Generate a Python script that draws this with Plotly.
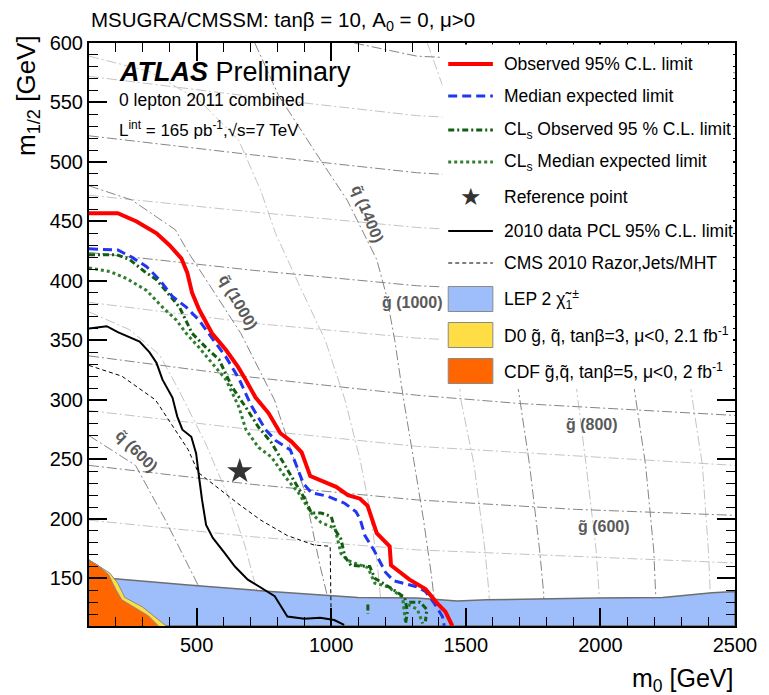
import plotly.graph_objects as go

# ---------------- data (m0 [GeV], m1/2 [GeV]) ----------------
OBS_M0 = [100, 207, 277, 351, 399, 443, 465, 483, 509, 557, 609, 653, 682, 719, 767, 811, 852, 890, 922,
          977, 1018, 1062, 1107, 1135, 1169, 1217, 1222, 1291, 1350, 1394, 1424, 1450]
OBS_M12 = [457, 457, 450, 440, 430, 419, 407, 390, 376, 356, 342, 328, 317, 302, 289, 272, 265, 256, 236,
           231, 227, 220, 217, 211, 188, 177, 161, 149, 141, 129, 122, 110]

EXP_M0 = [100, 207, 259, 314, 362, 410, 461, 509, 557, 609, 657, 701, 756, 793, 848, 871, 896, 926, 988,
          1051, 1092, 1107, 1125, 1158, 1202, 1232, 1317, 1350, 1383, 1413, 1420]
EXP_M12 = [427, 426, 420, 412, 401, 387, 378, 367, 352, 336, 318, 296, 275, 266, 258, 244, 230, 222, 219,
           213, 206, 200, 186, 174, 155, 148, 143, 139, 129, 118, 110]

CLS_OBS_M0 = [100, 203, 251, 306, 351, 399, 436, 483, 535, 583, 631, 682, 730, 778, 830, 859, 904, 926, 962,
              1000, 1014, 1036, 1051, 1073, 1143, 1162, 1221, 1273, 1283, 1276, None,
              1290, 1330, 1355, 1350, None, 1136, 1136]
CLS_OBS_M12 = [422, 422, 418, 408, 401, 388, 378, 356, 344, 334, 311, 294, 277, 264, 244, 233, 216, 205, 205,
               202, 191, 183, 168, 161, 160, 150, 142, 134, 122, 112, None,
               130, 130, 124, 114, None, 128, 120]

CLS_EXP_M0 = [100, 177, 240, 314, 373, 425, 461, 509, 557, 609, 657, 683, 730, 778, 830, 878, 926, 962,
              1014, 1025, 1036, 1062, 1136, 1162, 1210, 1265, 1276, None, 1285, 1320, 1340]
CLS_EXP_M12 = [411, 408, 402, 392, 378, 367, 356, 344, 331, 317, 294, 275, 260, 252, 235, 222, 205, 197,
               192, 181, 171, 165, 159, 146, 143, 134, 113, None, 128, 124, 112]

PCL2010_M0 = [100, 166, 207, 259, 288, 325, 351, 373, 410, 428, 447, 480, 498, 509, 520, 535, 560, 605, 642,
              690, 753, 790, 812, 837, 900, 959, 1011, 1048]
PCL2010_M12 = [360, 362, 357, 352, 349, 340, 331, 317, 302, 286, 275, 269, 255, 235, 216, 195, 184, 171, 160,
               149, 140, 135, 127, 118, 116, 117, 115, 111]

CMS_M0 = [100, 222, 347, 421, 469, 506, 568, 653, 738, 837, 937, 996, 1000]
CMS_M12 = [329, 320, 300, 275, 258, 239, 228, 213, 199, 186, 178, 177, 110]

LEP_M0 = [100, 185, 469, 775, 1099, 1317, 1468, 1578, 1984, 2231, 2415, 2500, 2500, 100]
LEP_M12 = [152, 150, 144.5, 139, 134, 133.5, 131, 132, 133.5, 134, 138, 139, 110, 110]

D0_M0 = [100, 100, 136, 177, 207, 233, 299, 387]
D0_M12 = [110, 165.5, 160.5, 154.5, 146, 134, 126, 110]

CDF_M0 = [100, 100, 136, 173, 200, 222, 259, 321, 358]
CDF_M12 = [110, 165.5, 160.5, 153, 140.5, 132, 127, 118.5, 110]

REF_POINT_M0 = [660]
REF_POINT_M12 = [240]

# gluino iso-mass contours (m0, m1/2)
GLUINO_500 = [(100, 199), (708, 185), (1317, 174), (2500, 163)]
GLUINO_600 = [(100, 245), (708, 229), (1317, 216), (1910, 208), (2500, 203)]
GLUINO_700 = [(100, 291), (708, 275), (1317, 261), (2500, 245)]
GLUINO_800 = [(100, 337), (708, 319), (1317, 304), (1700, 297), (2500, 287)]
GLUINO_900 = [(100, 382), (731, 364), (1317, 352), (2500, 338)]
GLUINO_1000 = [(100, 424), (708, 409), (1317, 396), (2500, 384)]
GLUINO_1100 = [(100, 472), (708, 458), (1317, 445), (2500, 430)]
GLUINO_1200 = [(100, 522), (708, 506), (1317, 491), (2500, 475)]
GLUINO_1300 = [(100, 572), (885, 550), (1317, 539), (2500, 524)]
GLUINO_1400 = [(1085, 600), (1317, 589), (2500, 575)]

# squark iso-mass contours (m0, m1/2)
SQUARK_600 = [(100, 270), (273, 245), (384, 199), (469, 160), (506, 144), (520, 130), (525, 110)]
SQUARK_800 = [(100, 374), (251, 359), (362, 338), (432, 309), (532, 264), (617, 219), (680, 177),
              (723, 140), (735, 110)]
SQUARK_1000 = [(100, 480), (259, 468), (421, 443), (469, 424), (664, 356), (789, 300), (900, 224),
               (959, 160), (989, 132), (1000, 110)]
SQUARK_1200 = [(100, 589), (325, 576), (509, 552), (657, 518), (738, 476), (793, 440), (878, 398),
               (978, 350), (1051, 300), (1107, 250), (1143, 208), (1169, 166), (1184, 132), (1191, 110)]
SQUARK_1400 = [(716, 600), (804, 556), (959, 502), (1059, 468), (1169, 418), (1206, 387), (1236, 350),
               (1269, 300), (1306, 250), (1343, 199), (1372, 153), (1394, 110)]
SQUARK_1600 = [(1357, 600), (1420, 560), (1460, 430), (1479, 303), (1531, 245), (1571, 174), (1586, 138),
               (1590, 110)]
SQUARK_1800 = [(1680, 345), (1693, 312), (1737, 245), (1774, 174), (1789, 138), (1792, 110)]
SQUARK_2000 = [(1905, 345), (1910, 312), (1947, 245), (1984, 174), (1995, 138), (1999, 110)]
SQUARK_2200 = [(2118, 345), (2124, 312), (2168, 245), (2198, 174), (2205, 138), (2209, 110)]
SQUARK_2400 = [(2328, 345), (2334, 312), (2379, 245), (2401, 174), (2408, 138), (2412, 110)]

DARK_CONTOURS = [GLUINO_600, GLUINO_800, GLUINO_1000, GLUINO_1200, GLUINO_1400,
                 SQUARK_600, SQUARK_1000, SQUARK_1400, SQUARK_1800, SQUARK_2200]
LIGHT_CONTOURS = [GLUINO_500, GLUINO_700, GLUINO_900, GLUINO_1100, GLUINO_1300,
                  SQUARK_800, SQUARK_1200, SQUARK_1600, SQUARK_2000, SQUARK_2400]

# contour labels: (text, m0, m1/2, angle)
CONTOUR_LABELS = [
    ("q\u0303 (1400)", 1135, 457, 68),
    ("q\u0303 (1000)", 655, 382, 60),
    ("q\u0303 (600)", 280, 257, 45),
    ("g\u0303 (1000)", 1300, 382, 0),
    ("g\u0303 (800)", 1970, 279, 0),
    ("g\u0303 (600)", 2014, 194, 0),
]

# legend entries
LEGEND_LABELS = [
    "Observed 95% C.L. limit",
    "Median expected limit",
    "CL<sub>s</sub> Observed 95 % C.L. limit",
    "CL<sub>s</sub> Median expected limit",
    "Reference point",
    "2010 data PCL 95% C.L. limit",
    "CMS 2010 Razor,Jets/MHT",
    "LEP 2 \u03c7\u0303<sub>1</sub><sup>\u00b1</sup>",
    "D0 g\u0303, q\u0303, tan\u03b2=3, \u03bc&lt;0, 2.1 fb<sup>-1</sup>",
    "CDF g\u0303,q\u0303, tan\u03b2=5, \u03bc&lt;0, 2 fb<sup>-1</sup>",
]

X_TICKS = [500, 1000, 1500, 2000, 2500]
Y_TICKS = [150, 200, 250, 300, 350, 400, 450, 500, 550, 600]

FONT = "Liberation Sans, Arial, Helvetica, sans-serif"

# styles
STY_OBS = dict(color="#ff0000", width=4)
STY_EXP = dict(color="#2236f0", width=3, dash="9px,5px")
STY_CLS_OBS = dict(color="#115e11", width=3, dash="6px,3px,2px,3px")
STY_CLS_EXP = dict(color="#2f7f2f", width=3, dash="dot")
STY_PCL = dict(color="black", width=2)
STY_CMS = dict(color="black", width=1, dash="4px,3px")
FILL_LEP, FILL_D0, FILL_CDF = "#9dbdfb", "#ffdd44", "#ff6600"

fig = go.Figure()

# background iso-mass contours
for cont in LIGHT_CONTOURS:
    fig.add_trace(go.Scatter(x=[p[0] for p in cont], y=[p[1] for p in cont], mode="lines",
                             line=dict(color="#c4c4c4", width=1, dash="10px,3px,2px,3px"),
                             showlegend=False, hoverinfo="skip"))
for cont in DARK_CONTOURS:
    fig.add_trace(go.Scatter(x=[p[0] for p in cont], y=[p[1] for p in cont], mode="lines",
                             line=dict(color="#858585", width=1, dash="10px,3px,2px,3px"),
                             showlegend=False, hoverinfo="skip"))

# excluded regions
fig.add_trace(go.Scatter(x=LEP_M0, y=LEP_M12, mode="lines", fill="toself", fillcolor=FILL_LEP,
                         line=dict(color="#6e6e6e", width=1.5), name="LEP", showlegend=False))
fig.add_trace(go.Scatter(x=D0_M0, y=D0_M12, mode="lines", fill="toself", fillcolor=FILL_D0,
                         line=dict(color="#8a8a8a", width=1), name="D0", showlegend=False))
fig.add_trace(go.Scatter(x=CDF_M0, y=CDF_M12, mode="lines", fill="toself", fillcolor=FILL_CDF,
                         line=dict(color="#8a8a8a", width=1), name="CDF", showlegend=False))

# previous limits
fig.add_trace(go.Scatter(x=CMS_M0, y=CMS_M12, mode="lines", line=STY_CMS,
                         name="CMS 2010", showlegend=False))
fig.add_trace(go.Scatter(x=PCL2010_M0, y=PCL2010_M12, mode="lines", line=STY_PCL,
                         name="2010 PCL", showlegend=False))

# 2011 limits
fig.add_trace(go.Scatter(x=CLS_EXP_M0, y=CLS_EXP_M12, mode="lines", line=STY_CLS_EXP,
                         name="CLs expected", showlegend=False))
fig.add_trace(go.Scatter(x=CLS_OBS_M0, y=CLS_OBS_M12, mode="lines", line=STY_CLS_OBS,
                         name="CLs observed", showlegend=False))
fig.add_trace(go.Scatter(x=EXP_M0, y=EXP_M12, mode="lines", line=STY_EXP,
                         name="Median expected", showlegend=False))
fig.add_trace(go.Scatter(x=OBS_M0, y=OBS_M12, mode="lines", line=STY_OBS,
                         name="Observed", showlegend=False))
fig.add_trace(go.Scatter(x=REF_POINT_M0, y=REF_POINT_M12, mode="markers",
                         marker=dict(symbol="star", size=19, color="#333333"),
                         name="Reference point", showlegend=False))

annotations = []
for text, x0, y0, ang in CONTOUR_LABELS:
    annotations.append(dict(x=x0, y=y0, xref="x", yref="y", text="<b>" + text + "</b>",
                            showarrow=False, textangle=ang,
                            font=dict(family=FONT, size=16, color="#5a5a5a")))

annotations += [
    dict(x=0, y=1.038, xref="paper", yref="paper", xanchor="left", yanchor="middle",
         text="MSUGRA/CMSSM: tan\u03b2 = 10, A<sub>0</sub> = 0, \u03bc>0", showarrow=False,
         font=dict(family=FONT, size=20.5, color="black")),
    dict(x=0.043, y=0.951, xref="paper", yref="paper", xanchor="left", yanchor="middle",
         text="<b><i>ATLAS</i></b> Preliminary", showarrow=False,
         font=dict(family=FONT, size=27, color="black")),
    dict(x=0.043, y=0.902, xref="paper", yref="paper", xanchor="left", yanchor="middle",
         text="0 lepton 2011 combined", showarrow=False,
         font=dict(family=FONT, size=17.5, color="black")),
    dict(x=0.043, y=0.852, xref="paper", yref="paper", xanchor="left", yanchor="middle",
         text="L<sup>int</sup> = 165 pb<sup>-1</sup>,\u221as=7 TeV", showarrow=False,
         font=dict(family=FONT, size=17, color="black")),
    dict(x=1.0, y=-0.093, xref="paper", yref="paper", xanchor="right", yanchor="middle",
         text="m<sub>0</sub> [GeV]", showarrow=False,
         font=dict(family=FONT, size=25, color="black")),
    dict(x=-0.096, y=1.018, xref="paper", yref="paper", xanchor="center", yanchor="top",
         text="m<sub>1/2</sub> [GeV]", showarrow=False, textangle=-90,
         font=dict(family=FONT, size=26, color="black")),
]

# ---------------- hand-placed legend (paper coordinates) ----------------
def py2paper(py):
    return 1 - (py - 43) / 583.0

def px2paper(px):
    return (px - 89) / 651.0

LEG_ROWS_PX = [64, 96, 130, 162, 197, 231, 263, 299, 335, 371]
SW_X0, SW_X1, TXT_X = px2paper(451), px2paper(496), px2paper(505)

shapes = [dict(type="rect", xref="paper", yref="paper", layer="above",
               x0=px2paper(445), x1=px2paper(738), y0=py2paper(389), y1=py2paper(44.5),
               fillcolor="white", line=dict(width=0))]
line_styles = [STY_OBS, STY_EXP, STY_CLS_OBS, STY_CLS_EXP, None, STY_PCL, STY_CMS]
for i, sty in enumerate(line_styles):
    if sty is None:
        continue
    yy = py2paper(LEG_ROWS_PX[i])
    shapes.append(dict(type="line", xref="paper", yref="paper", layer="above",
                       x0=SW_X0, x1=SW_X1, y0=yy, y1=yy, line=sty))
for i, col in zip([7, 8, 9], [FILL_LEP, FILL_D0, FILL_CDF]):
    yc = LEG_ROWS_PX[i]
    shapes.append(dict(type="rect", xref="paper", yref="paper", layer="above",
                       x0=SW_X0, x1=SW_X1, y0=py2paper(yc + 12.5), y1=py2paper(yc - 12.5),
                       fillcolor=col, line=dict(color="#8a8a8a", width=1)))

for i, lab in enumerate(LEGEND_LABELS):
    annotations.append(dict(x=TXT_X, y=py2paper(LEG_ROWS_PX[i]), xref="paper", yref="paper",
                            xanchor="left", yanchor="middle", text=lab, showarrow=False,
                            font=dict(family=FONT, size=17.5, color="black")))
annotations.append(dict(x=px2paper(473.5), y=py2paper(LEG_ROWS_PX[4]), xref="paper", yref="paper",
                        xanchor="center", yanchor="middle", text="\u2605", showarrow=False,
                        font=dict(family="DejaVu Sans", size=24, color="#333333")))

axis_common = dict(showline=True, linewidth=2, linecolor="black", mirror="allticks",
                   ticks="inside", ticklen=18, tickwidth=1.5, tickcolor="black",
                   showgrid=False, zeroline=False,
                   tickfont=dict(family=FONT, size=20, color="black"))

# the page body adds an 8px offset; the figure is sized so the plot frame
# (x 89..740, y 43..626 in the window) lands where the reference has it
fig.update_layout(
    width=761, height=687,
    margin=dict(l=81, r=29, t=35, b=69),
    paper_bgcolor="white", plot_bgcolor="white",
    font=dict(family=FONT, color="black"),
    xaxis=dict(range=[100, 2500], tickvals=X_TICKS,
               minor=dict(ticks="inside", ticklen=9, dtick=100, tick0=0, tickcolor="black", tickwidth=1.2),
               **axis_common),
    yaxis=dict(range=[110, 600], tickvals=Y_TICKS,
               minor=dict(ticks="inside", ticklen=9, dtick=10, tick0=0, tickcolor="black", tickwidth=1.2),
               **axis_common),
    annotations=annotations,
    shapes=shapes,
    showlegend=False,
)

fig.write_html("out.html")
